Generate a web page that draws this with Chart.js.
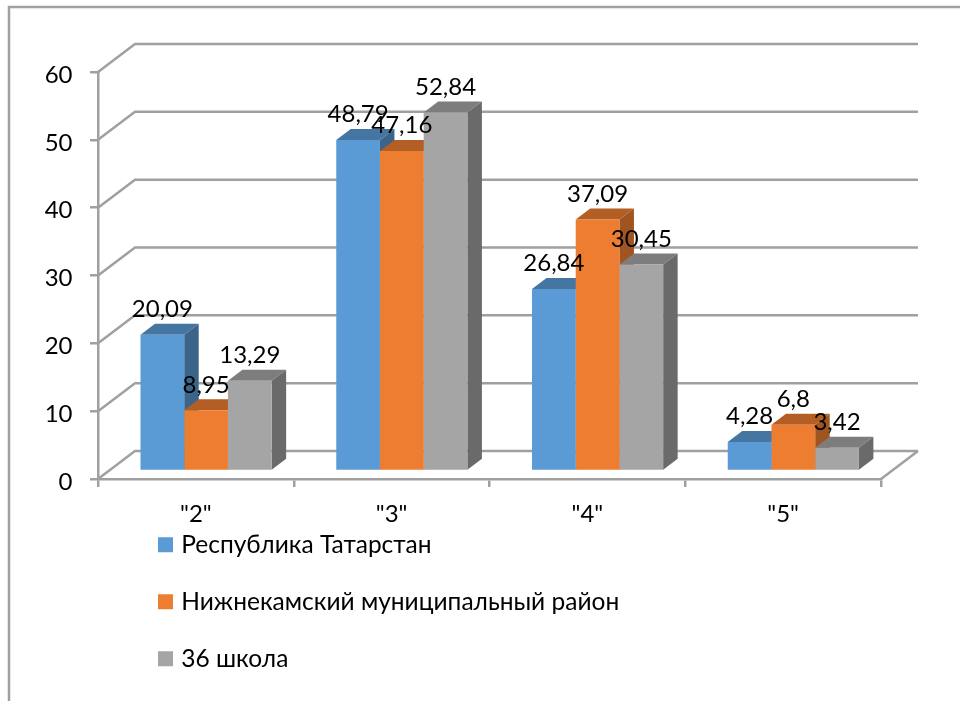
<!DOCTYPE html>
<html>
<head>
<meta charset="utf-8">
<title>chart</title>
<script src="https://cdn.jsdelivr.net/npm/chart.js@4"></script>
<style>
    body { margin: 0; background: #fff; }
    canvas { display: block; }
</style>
</head>
<body>
<canvas id="myChart" width="960" height="701"></canvas>
<script>
const categories = ['"2"', '"3"', '"4"', '"5"']
const seriesNames = ['Республика Татарстан', 'Нижнекамский муниципальный район', '36 школа']
const tatarstan = [20.09, 48.79, 26.84, 4.28]
const nizhnekamsk = [8.95, 47.16, 37.09, 6.8]
const school36 = [13.29, 52.84, 30.45, 3.42]

const frontColors = ['#5b9bd5', '#ed7d31', '#a5a5a5']
const topColors = ['#4575a1', '#b25e25', '#7d7d7d']
const sideColors = ['#3b6489', '#a0541f', '#6a6a6a']

const gridColor = '#a0a0a0'
const fontName = 'Lato, "Noto Sans", sans-serif'
const fontSize = 24
const legendFontSize = 24.5

// how far the back wall and the bars are pushed "into" the picture
const wallX = 37, wallY = 28
const barShiftX = 10.2, barShiftY = 8
const barDepthX = 14.5, barDepthY = 11

function line(ctx, points) {
    ctx.beginPath()
    points.forEach((p, i) => i ? ctx.lineTo(p[0], p[1]) : ctx.moveTo(p[0], p[1]))
    ctx.stroke()
}

function face(ctx, points, color) {
    ctx.beginPath()
    points.forEach((p, i) => i ? ctx.lineTo(p[0], p[1]) : ctx.moveTo(p[0], p[1]))
    ctx.closePath()
    ctx.fillStyle = color
    ctx.fill()
}

const walls = {
    id: 'walls',
    beforeDraw(chart) {
        const ctx = chart.ctx
        const { left, right } = chart.chartArea
        const y = chart.scales.y
        ctx.save()
        ctx.strokeStyle = gridColor
        ctx.lineWidth = 2.5

        // outer frame, cut by the window edge
        line(ctx, [[9, 701], [9, 7], [960, 7]])

        y.ticks.forEach(t => {
            const py = y.getPixelForValue(t.value)
            line(ctx, [[left, py], [left + wallX, py - wallY], [right + wallX, py - wallY]])
        })
        const base = y.getPixelForValue(0)
        line(ctx, [[right, base], [right + wallX, base - wallY]])

        // y labels sit a little under their ticks, the axis option can't do that
        ctx.font = fontSize + 'px ' + fontName
        ctx.fillStyle = '#000'
        ctx.textAlign = 'right'
        ctx.textBaseline = 'middle'
        y.ticks.forEach(t => ctx.fillText(t.label, 72.5, y.getPixelForValue(t.value) + 3))
        ctx.restore()
    }
}

const bars3d = {
    id: 'bars3d',
    beforeDatasetsDraw(chart) {
        const ctx = chart.ctx
        ctx.save()
        ctx.translate(barShiftX, -barShiftY)
        categories.forEach((c, i) => {
            chart.data.datasets.forEach((ds, d) => {
                const bar = chart.getDatasetMeta(d).data[i]
                const l = bar.x - bar.width / 2, r = bar.x + bar.width / 2
                face(ctx, [[l, bar.y], [r, bar.y], [r + barDepthX, bar.y - barDepthY], [l + barDepthX, bar.y - barDepthY]], topColors[d])
                face(ctx, [[r, bar.y], [r + barDepthX, bar.y - barDepthY], [r + barDepthX, bar.base - barDepthY], [r, bar.base]], sideColors[d])
            })
        })
    },
    afterDatasetsDraw(chart) {
        const ctx = chart.ctx
        ctx.restore()

        // data labels with a decimal comma
        ctx.save()
        ctx.font = fontSize + 'px ' + fontName
        ctx.fillStyle = '#000'
        ctx.textAlign = 'center'
        ctx.textBaseline = 'middle'
        chart.data.datasets.forEach((ds, d) => {
            chart.getDatasetMeta(d).data.forEach((bar, i) => {
                ctx.fillText(String(ds.data[i]).replace('.', ','), bar.x + barShiftX, bar.y - barShiftY - 25.5)
            })
        })
        ctx.restore()
    }
}

// legend goes in one column under the plot
const legendSpot = {
    id: 'legendSpot',
    afterLayout(chart) {
        const lg = chart.legend
        lg.left = 162 - lg.options.labels.padding
        lg.top = 500
        lg.right = 960
        lg.bottom = 800
    }
}

new Chart(document.getElementById('myChart').getContext('2d'), {
    type: 'bar',
    data: {
        labels: categories,
        datasets: [
            { label: seriesNames[0], data: tatarstan, backgroundColor: frontColors[0] },
            { label: seriesNames[1], data: nizhnekamsk, backgroundColor: frontColors[1] },
            { label: seriesNames[2], data: school36, backgroundColor: frontColors[2] }
        ]
    },
    options: {
        responsive: false,
        animation: false,
        layout: { padding: { left: 30, top: 72, right: 79, bottom: 172 } },
        datasets: { bar: { categoryPercentage: 0.67, barPercentage: 1 } },
        scales: {
            x: {
                afterFit: s => { s.height = 50 },
                grid: { drawOnChartArea: false, color: gridColor, lineWidth: 2.5, tickLength: 8 },
                border: { color: gridColor, width: 2.5 },
                ticks: { color: '#000', padding: 13, font: { family: fontName, size: fontSize } }
            },
            y: {
                min: 0,
                max: 60,
                afterFit: s => { s.width = 68 },
                grid: { drawOnChartArea: false, color: gridColor, lineWidth: 2.5, tickLength: 8 },
                border: { color: gridColor, width: 2.5 },
                ticks: { stepSize: 10, display: false }
            }
        },
        plugins: {
            tooltip: { enabled: false },
            legend: {
                position: 'chartArea',
                align: 'start',
                labels: {
                    color: '#000',
                    // small box plus a thick same-colour border, so the text sits close to it
                    boxWidth: 7,
                    boxHeight: 7,
                    padding: 32.5,
                    font: { family: fontName, size: legendFontSize },
                    generateLabels: chart => Chart.defaults.plugins.legend.labels.generateLabels(chart).map(item => {
                        item.lineWidth = 8
                        item.strokeStyle = item.fillStyle
                        return item
                    })
                }
            }
        }
    },
    plugins: [walls, bars3d, legendSpot]
})
</script>
</body>
</html>
